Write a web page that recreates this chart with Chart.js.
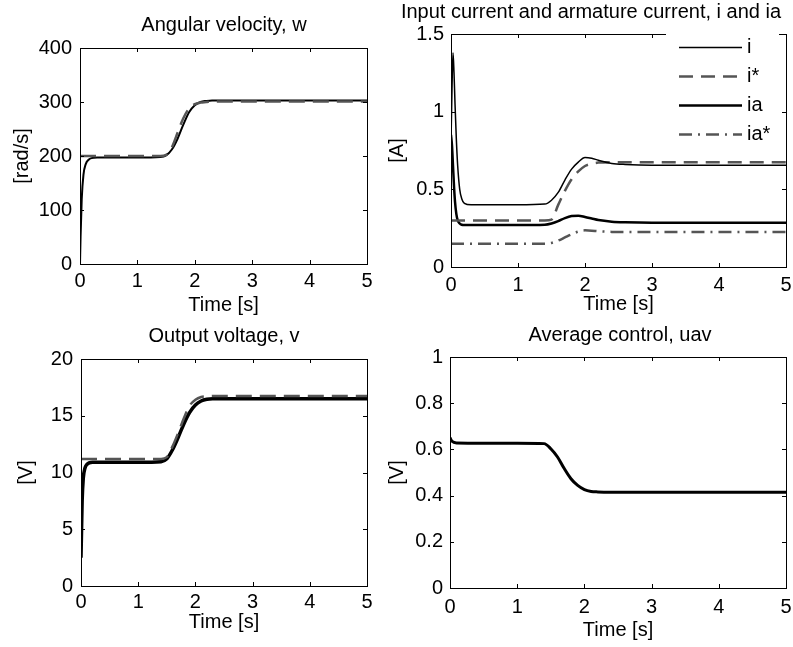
<!DOCTYPE html>
<html>
<head>
<meta charset="utf-8">
<script src="https://cdn.jsdelivr.net/npm/chart.js@4"></script>
<style>
  html, body { margin: 0; padding: 0; background: #fff; overflow: hidden; width: 793px; height: 647px; }
  canvas { position: absolute; }
</style>
</head>
<body>
<canvas id="cW"></canvas>
<canvas id="cI"></canvas>
<canvas id="cV"></canvas>
<canvas id="cU"></canvas>
<script>
// Angular velocity, w
const tW   = [0, 0.01, 0.03, 0.06, 0.1, 0.15, 0.2, 0.3, 1.0, 1.4, 1.5, 1.6, 1.7, 1.8, 1.9, 2.0, 2.1, 2.2, 2.3, 2.5, 3, 4, 5];
const w    = [0, 50, 120, 165, 185, 193, 196, 197, 197, 198, 201, 212, 232, 258, 281, 294, 300, 302, 303, 303, 303, 303, 303];
const wRef = [200, 200, 200, 200, 200, 200, 200, 200, 200, 200, 202, 216, 243, 270, 288, 296, 299, 300, 301, 301, 301, 301, 301];

// Input current and armature current
const tI    = [0, 0.015, 0.03, 0.045, 0.06, 0.08, 0.1, 0.13, 0.16, 0.2, 0.3, 1.0, 1.4, 1.5, 1.6, 1.7, 1.8, 1.9, 2.0, 2.1, 2.2, 2.4, 2.6, 3, 4, 5];
const iIn   = [0.8, 1.15, 1.38, 1.25, 1.05, 0.82, 0.65, 0.5, 0.44, 0.41, 0.40, 0.40, 0.405, 0.43, 0.48, 0.56, 0.63, 0.675, 0.705, 0.70, 0.687, 0.667, 0.66, 0.655, 0.655, 0.655];
const iRef  = [0.3, 0.3, 0.3, 0.3, 0.3, 0.3, 0.3, 0.3, 0.3, 0.3, 0.3, 0.3, 0.3, 0.305, 0.40, 0.49, 0.565, 0.615, 0.65, 0.665, 0.672, 0.675, 0.675, 0.675, 0.675, 0.675];
const ia    = [0.85, 0.78, 0.65, 0.52, 0.42, 0.34, 0.30, 0.28, 0.272, 0.27, 0.27, 0.27, 0.272, 0.28, 0.295, 0.315, 0.328, 0.33, 0.322, 0.312, 0.302, 0.292, 0.288, 0.285, 0.285, 0.285];
const iaRef = [0.15, 0.15, 0.15, 0.15, 0.15, 0.15, 0.15, 0.15, 0.15, 0.15, 0.15, 0.15, 0.15, 0.155, 0.17, 0.19, 0.21, 0.228, 0.236, 0.234, 0.23, 0.226, 0.225, 0.225, 0.225, 0.225];

// Output voltage, v
const tV   = [0, 0.01, 0.02, 0.04, 0.07, 0.1, 0.2, 0.5, 1.0, 1.4, 1.5, 1.6, 1.7, 1.8, 1.9, 2.0, 2.1, 2.2, 2.3, 2.5, 3, 4, 5];
const v    = [2.5, 5, 7.5, 9.5, 10.4, 10.7, 10.9, 10.9, 10.9, 10.95, 11.2, 12.0, 13.1, 14.3, 15.3, 15.95, 16.3, 16.45, 16.5, 16.5, 16.5, 16.5, 16.5];
const vRef = [11.2, 11.2, 11.2, 11.2, 11.2, 11.2, 11.2, 11.2, 11.2, 11.2, 11.35, 12.3, 13.5, 14.8, 15.9, 16.4, 16.65, 16.72, 16.75, 16.75, 16.75, 16.75, 16.75];

// Average control, uav
const tU  = [0, 0.03, 0.1, 0.5, 1.0, 1.4, 1.5, 1.6, 1.7, 1.8, 1.9, 2.0, 2.1, 2.2, 2.4, 3, 4, 5];
const uav = [0.65, 0.635, 0.628, 0.627, 0.627, 0.625, 0.603, 0.567, 0.517, 0.473, 0.444, 0.426, 0.418, 0.416, 0.415, 0.415, 0.415, 0.415];

const xTicks = [0, 1, 2, 3, 4, 5];

Chart.defaults.font.family = '"Liberation Sans", Arial, Helvetica, sans-serif';
Chart.defaults.font.size = 20;
Chart.defaults.color = '#000';

const GRAY = '#555';
const pts = (t, vals) => t.map((x, k) => ({ x, y: vals[k] }));
const plain = val => String(+Number(val).toFixed(2));

// matlab style box with inward ticks
const boxPlugin = {
  id: 'box',
  afterDraw(chart) {
    const { ctx, chartArea: a, scales } = chart;
    const L = 4;
    ctx.save();
    ctx.strokeStyle = '#000';
    ctx.lineWidth = 1;
    ctx.strokeRect(Math.round(a.left) + 0.5, Math.round(a.top) + 0.5, Math.round(a.width), Math.round(a.height));
    ctx.beginPath();
    scales.x.ticks.forEach(t => {
      const p = Math.round(scales.x.getPixelForValue(t.value)) + 0.5;
      ctx.moveTo(p, a.bottom); ctx.lineTo(p, a.bottom - L);
      ctx.moveTo(p, a.top); ctx.lineTo(p, a.top + L);
    });
    scales.y.ticks.forEach(t => {
      const p = Math.round(scales.y.getPixelForValue(t.value)) + 0.5;
      ctx.moveTo(a.left, p); ctx.lineTo(a.left + L, p);
      ctx.moveTo(a.right, p); ctx.lineTo(a.right - L, p);
    });
    ctx.stroke();
    ctx.restore();
  }
};

// legend drawn inside the plot, top right
const legendBox = {
  id: 'legendBox',
  afterDraw(chart, args, o) {
    const { ctx, chartArea: a } = chart;
    ctx.save();
    ctx.fillStyle = '#fff';
    ctx.fillRect(a.left + o.boxLeft, a.top + o.boxTop, o.boxWidth, o.boxHeight);
    chart.data.datasets.forEach((ds, k) => {
      const y = Math.round(a.top + o.firstRow + k * o.rowStep) + 0.5;
      ctx.strokeStyle = ds.borderColor;
      ctx.lineWidth = ds.borderWidth;
      ctx.setLineDash(ds.borderDash || []);
      ctx.beginPath();
      ctx.moveTo(a.left + o.lineStart, y);
      ctx.lineTo(a.left + o.lineStart + o.lineLen, y);
      ctx.stroke();
      ctx.setLineDash([]);
      ctx.fillStyle = '#000';
      ctx.font = '20px "Liberation Sans", Arial, sans-serif';
      ctx.textBaseline = 'middle';
      ctx.fillText(ds.label, a.left + o.lineStart + o.lineLen + 5, y);
    });
    ctx.restore();
  }
};

function panel(id, g, title, yLabel, yOpts, datasets, legend) {
  const cv = document.getElementById(id);
  const W = 2 * (g.titleX - g.left);
  cv.width = W;
  cv.height = g.height;
  cv.style.left = g.left + 'px';
  cv.style.top = g.top + 'px';
  const tTop = g.titleY - g.top - 12;
  const tBottom = g.plotTop - g.top - 24 - tTop;
  return new Chart(cv, {
    type: 'line',
    data: { datasets },
    options: {
      responsive: false,
      animation: false,
      devicePixelRatio: 1,
      layout: { padding: 0 },
      elements: { point: { radius: 0 }, line: { cubicInterpolationMode: 'monotone' } },
      plugins: {
        legend: { display: false },
        tooltip: { enabled: false },
        title: {
          display: true, text: title, color: '#000',
          font: { size: 20, weight: 'normal' },
          padding: { top: tTop, bottom: tBottom }
        },
        legendBox: legend || {}
      },
      scales: {
        x: {
          type: 'linear', min: 0, max: 5,
          afterBuildTicks: s => { s.ticks = xTicks.map(value => ({ value })); },
          ticks: { padding: g.xTickPad, maxRotation: 0, callback: plain },
          grid: { display: false, drawTicks: false },
          border: { display: false },
          title: { display: true, text: 'Time [s]', padding: { top: 0, bottom: g.xTitlePad } },
          afterFit: s => { s.height = g.top + g.height - g.plotBottom; s.paddingLeft = 0; s.paddingRight = 0; }
        },
        y: Object.assign({
          type: 'linear', position: 'left',
          grid: { display: false, drawTicks: false },
          border: { display: false },
          title: { display: true, text: yLabel, padding: { top: g.yTitlePad, bottom: 0 } },
          afterFit: s => { s.width = g.plotLeft - g.left; s.paddingTop = 0; s.paddingBottom = 0; }
        }, yOpts),
        yR: {
          position: 'right',
          ticks: { display: false },
          grid: { display: false, drawTicks: false },
          border: { display: false },
          afterFit: s => { s.width = g.left + W - g.plotRight; s.paddingTop = 0; s.paddingBottom = 0; }
        }
      }
    },
    plugins: legend ? [boxPlugin, legendBox] : [boxPlugin]
  });
}

panel('cW',
  { left: 0, top: 0, height: 320, titleX: 224, titleY: 25, plotLeft: 80, plotTop: 48, plotRight: 367, plotBottom: 264,
    xTickPad: 5, xTitlePad: 3, yTitlePad: 10 },
  'Angular velocity, w', '[rad/s]',
  { min: 0, max: 400, ticks: { stepSize: 100, padding: 8, callback: plain } },
  [
    { label: 'w*', data: pts(tW, wRef), borderColor: GRAY, borderWidth: 2.5, borderDash: [16, 8] },
    { label: 'w', data: pts(tW, w), borderColor: '#000', borderWidth: 2 }
  ]);

panel('cI',
  { left: 380, top: 0, height: 320, titleX: 591, titleY: 12, plotLeft: 451, plotTop: 34, plotRight: 786, plotBottom: 267,
    xTickPad: 6, xTitlePad: 4, yTitlePad: 5 },
  'Input current and armature current, i and ia', '[A]',
  { min: 0, max: 1.5, ticks: { stepSize: 0.5, padding: 7, callback: plain } },
  [
    { label: 'i', data: pts(tI, iIn), borderColor: '#000', borderWidth: 1.5 },
    { label: 'i*', data: pts(tI, iRef), borderColor: GRAY, borderWidth: 2.5, borderDash: [14, 8] },
    { label: 'ia', data: pts(tI, ia), borderColor: '#000', borderWidth: 2.5 },
    { label: 'ia*', data: pts(tI, iaRef), borderColor: GRAY, borderWidth: 2.5, borderDash: [13, 6, 2, 6] }
  ],
  { boxLeft: 215, boxTop: -10, boxWidth: 113, boxHeight: 124, lineStart: 228, lineLen: 63, firstRow: 13, rowStep: 29 });

panel('cV',
  { left: 0, top: 320, height: 327, titleX: 224, titleY: 336, plotLeft: 81, plotTop: 359, plotRight: 367, plotBottom: 586,
    xTickPad: 4, xTitlePad: 13, yTitlePad: 14 },
  'Output voltage, v', '[V]',
  { min: 0, max: 20, ticks: { stepSize: 5, padding: 8, callback: plain } },
  [
    { label: 'v*', data: pts(tV, vRef), borderColor: GRAY, borderWidth: 2.5, borderDash: [16, 8] },
    { label: 'v', data: pts(tV, v), borderColor: '#000', borderWidth: 3.5 }
  ]);

panel('cU',
  { left: 380, top: 320, height: 327, titleX: 620, titleY: 335, plotLeft: 450, plotTop: 357, plotRight: 786, plotBottom: 588,
    xTickPad: 7, xTitlePad: 5, yTitlePad: 5 },
  'Average control, uav', '[V]',
  { min: 0, max: 1, ticks: { stepSize: 0.2, padding: 7, callback: plain } },
  [
    { label: 'uav', data: pts(tU, uav), borderColor: '#000', borderWidth: 3 }
  ]);
</script>
</body>
</html>
